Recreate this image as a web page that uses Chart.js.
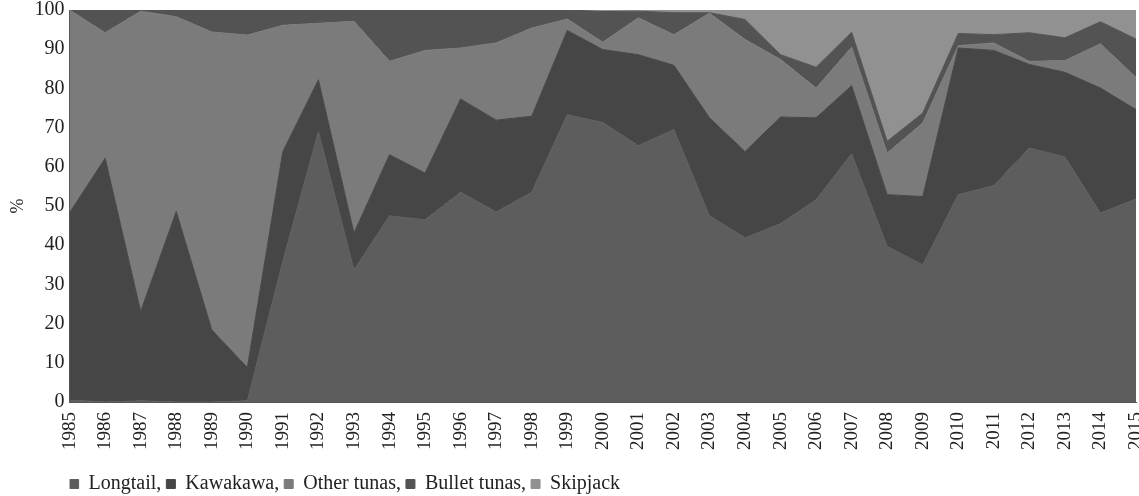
<!DOCTYPE html>
<html>
<head>
<meta charset="utf-8">
<script src="https://cdn.jsdelivr.net/npm/chart.js@4"></script>
<style>
  html, body { margin: 0; padding: 0; background: #fff; }
  #wrap { width: 1139px; height: 496px; }
</style>
</head>
<body>
<div id="wrap"><canvas id="tuna-chart" width="1139" height="496"></canvas></div>
<script>
const years = ['1985', '1986', '1987', '1988', '1989', '1990', '1991', '1992', '1993', '1994',
    '1995', '1996', '1997', '1998', '1999', '2000', '2001', '2002', '2003', '2004',
    '2005', '2006', '2007', '2008', '2009', '2010', '2011', '2012', '2013', '2014', '2015'];

const longtail = [0.5, 0, 0.3, 0, 0, 0.3, 36, 69, 33.7, 47.5,
    46.5, 53.5, 48.5, 53.5, 73.3, 71.3, 65.4, 69.5, 47.5, 41.9,
    45.5, 51.6, 63.3, 39.7, 35, 52.9, 55.2, 64.8, 62.5, 48.2, 51.8];
const kawakawa = [47.8, 62.2, 22.8, 48.6, 18.4, 8.5, 27.9, 13.2, 9.4, 15.6,
    11.9, 23.8, 23.4, 19.4, 21.5, 18.6, 23.2, 16.4, 25, 22,
    27.2, 20.9, 17.4, 13.2, 17.4, 37.4, 34.5, 21.3, 21.6, 31.9, 22.8];
const otherTunas = [51.7, 32, 76.6, 49.7, 76, 84.8, 32.2, 14.4, 54, 23.8,
    31.3, 13, 19.7, 22.5, 2.9, 1.9, 9.4, 7.8, 26.7, 28.6,
    14.7, 7.6, 9.8, 10.6, 18.8, 0.6, 1.9, 0.8, 3, 11.3, 8.2];
const bulletTunas = [0, 5.8, 0.3, 1.7, 5.6, 6.4, 3.9, 3.4, 2.9, 13.1,
    10.3, 9.7, 8.4, 4.6, 2.3, 7.8, 1.7, 5.6, 0.1, 5.1,
    1.2, 5.3, 3.8, 3, 2.5, 3.1, 2.1, 7.3, 5.8, 5.6, 9.8];
const skipjack = [0, 0, 0, 0, 0, 0, 0, 0, 0, 0,
    0, 0, 0, 0, 0, 0.4, 0.3, 0.7, 0.7, 2.4,
    11.4, 14.6, 5.7, 33.5, 26.3, 6, 6.3, 5.8, 7.1, 3, 7.4];

const yTicks = [0, 10, 20, 30, 40, 50, 60, 70, 80, 90, 100];

const serif = "'Liberation Serif', 'Times New Roman', serif";

function layer(label, data, color, fill) {
    return {
        label: label,
        data: data,
        backgroundColor: color,
        borderColor: color,
        borderWidth: 1,
        pointRadius: 0,
        tension: 0,
        fill: fill,
    };
}

// legend adds 10px under its row, trim most of it so the row sits near the bottom
const tightLegend = {
    id: 'tightLegend',
    beforeInit(chart) {
        const origFit = chart.legend.fit;
        chart.legend.fit = function () {
            origFit.call(this);
            this.height -= 8;
        };
    },
};

new Chart(document.getElementById('tuna-chart'), {
    type: 'line',
    data: {
        labels: years,
        datasets: [
            layer('Longtail', longtail, '#5d5d5d', 'origin'),
            layer('Kawakawa', kawakawa, '#464646', '-1'),
            layer('Other tunas', otherTunas, '#7b7b7b', '-1'),
            layer('Bullet tunas', bulletTunas, '#535353', '-1'),
            layer('Skipjack', skipjack, '#919191', '-1'),
        ],
    },
    plugins: [tightLegend],
    options: {
        responsive: false,
        animation: false,
        layout: { padding: { left: 7, right: 3, top: 10, bottom: 0 } },
        plugins: {
            tooltip: { enabled: false },
            legend: {
                position: 'bottom',
                align: 'start',
                fullSize: false,
                labels: {
                    color: '#222',
                    font: { family: serif, size: 20 },
                    boxWidth: 9,
                    boxHeight: 9,
                    padding: 0,
                    generateLabels: (chart) => {
                        const items = Chart.defaults.plugins.legend.labels.generateLabels(chart);
                        items.forEach((item, i) => {
                            if (i < items.length - 1) item.text = item.text + ', ';
                        });
                        return items;
                    },
                },
            },
        },
        scales: {
            x: {
                offset: false,
                grid: { display: false, drawTicks: false },
                border: { display: true, color: '#555', width: 1 },
                afterFit: (scale) => {
                    scale.paddingLeft = 0;
                    scale.paddingRight = 0;
                    scale.height = 72;
                },
                ticks: {
                    color: '#222',
                    font: { family: serif, size: 19 },
                    minRotation: 90,
                    maxRotation: 90,
                    autoSkip: false,
                    padding: 10,
                },
            },
            y: {
                stacked: true,
                min: 0,
                max: 100,
                grid: { display: false, drawTicks: false },
                border: { display: true, color: '#555', width: 1 },
                afterBuildTicks: (axis) => {
                    axis.ticks = yTicks.map(v => ({ value: v }));
                },
                afterFit: (scale) => {
                    scale.paddingTop = 0;
                    scale.paddingBottom = 0;
                },
                ticks: {
                    color: '#222',
                    font: { family: serif, size: 20 },
                    padding: 5,
                },
                title: {
                    display: true,
                    text: '%',
                    color: '#222',
                    font: { family: serif, size: 18 },
                    padding: { top: 0, bottom: 1 },
                },
            },
        },
    },
});
</script>
</body>
</html>
